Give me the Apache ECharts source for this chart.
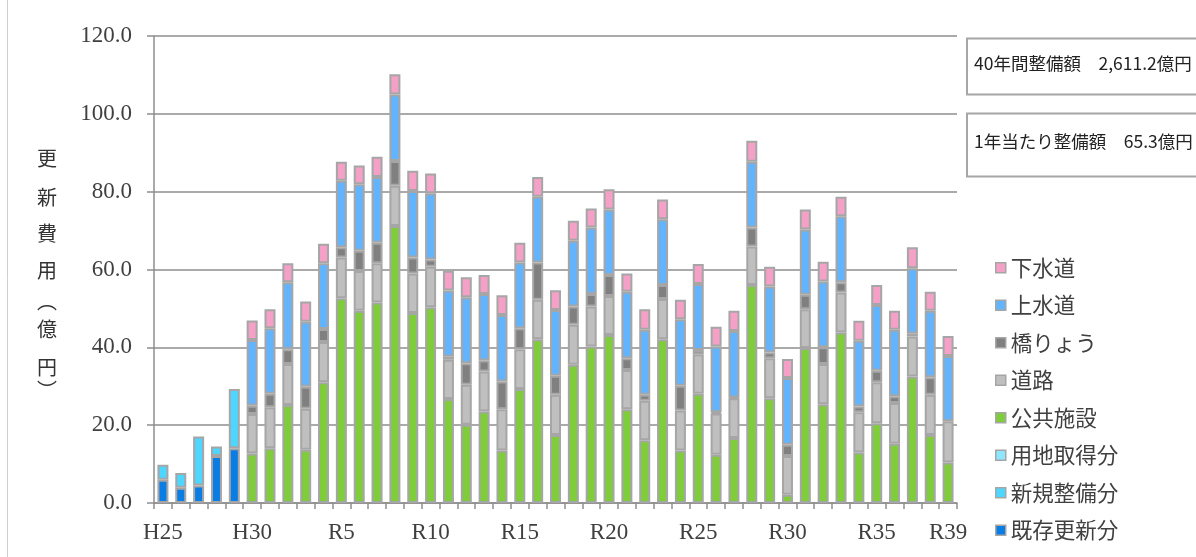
<!DOCTYPE html>
<html>
<head>
<meta charset="utf-8">
<script src="https://cdn.jsdelivr.net/npm/echarts@6/dist/echarts.min.js"></script>
<style>
  html, body { margin: 0; padding: 0; background: #fff; }
  #chart { width: 1196px; height: 557px; }
</style>
</head>
<body>
<div id="chart"></div>
<script>
// Fiscal years (平成25 … 令和39)
const categories = [
  'H25','H26','H27','H28','H29','H30',
  'R1','R2','R3','R4','R5','R6','R7','R8','R9','R10',
  'R11','R12','R13','R14','R15','R16','R17','R18','R19','R20',
  'R21','R22','R23','R24','R25','R26','R27','R28','R29','R30',
  'R31','R32','R33','R34','R35','R36','R37','R38','R39'
];

// 億円 per year; null = no amount in that year
const kizonKoushin = [6.0, 3.9, 4.5, 12.1, 14.1,
  null,null,null,null,null,null,null,null,null,null,null,null,null,null,null,null,null,null,null,null,
  null,null,null,null,null,null,null,null,null,null,null,null,null,null,null,null,null,null,null,null];
const shinkiSeibi = [3.8, 3.8, 12.6, 2.4, 15.2,
  null,null,null,null,null,null,null,null,null,null,null,null,null,null,null,null,null,null,null,null,
  null,null,null,null,null,null,null,null,null,null,null,null,null,null,null,null,null,null,null,null];
const youchiShutoku = [null,null,null,null,null,
  null,null,null,null,null,null,null,null,null,null,null,null,null,null,null,null,null,null,null,null,
  null,null,null,null,null,null,null,null,null,null,null,null,null,null,null,null,null,null,null,null];
const koukyouShisetsu = [null,null,null,null,null,
  12.7,14.1,25.2,13.7,31.0,52.6,49.4,51.5,71.2,48.8,50.3,26.7,20.1,23.5,13.5,29.3,42.1,17.5,35.5,40.2,
  43.2,24.1,16.1,42.1,13.5,28.1,12.4,16.7,56.0,26.9,2.1,39.8,25.4,43.8,13.0,20.5,15.2,32.5,17.5,10.4];
const douro = [null,null,null,null,null,
  10.2,10.5,10.5,10.5,10.4,10.5,10.2,10.1,10.3,10.2,10.4,10.1,10.3,10.3,10.6,10.2,10.1,10.3,10.3,10.3,
  10.0,10.1,10.2,10.3,10.3,10.1,10.6,10.2,9.9,10.3,10.0,10.0,10.3,10.3,10.3,10.5,10.5,10.3,10.3,10.6];
const kyouryou = [null,null,null,null,null,
  2.1,3.5,3.8,5.7,3.3,2.6,5.2,5.3,6.4,4.1,1.9,0.8,5.5,2.8,7.1,5.4,9.6,4.9,4.7,3.2,
  5.4,3.0,1.5,3.6,6.3,1.1,0.3,0.2,4.9,1.5,2.9,3.7,4.3,2.6,1.5,3.0,1.7,0.7,4.5,null];
const jousuidou = [null,null,null,null,null,
  16.9,16.8,17.2,16.7,16.9,17.1,17.1,16.9,17.1,17.1,17.0,17.0,17.0,17.1,17.1,16.9,16.9,16.9,16.9,17.1,
  16.8,17.1,16.7,16.9,17.1,17.0,16.9,17.1,16.9,16.9,17.1,16.8,16.9,17.0,16.9,16.9,17.1,16.8,17.1,16.8];
const gesuidou = [null,null,null,null,null,
  5.0,4.9,4.9,5.2,5.0,4.9,4.8,5.2,5.2,5.2,5.1,5.1,5.1,4.9,5.1,5.1,5.1,5.1,5.1,4.9,
  5.2,4.7,5.3,5.1,5.0,5.1,5.1,5.2,5.4,5.1,4.9,5.1,5.1,5.0,5.1,5.1,4.9,5.4,4.9,5.1];

const yTicks = [0, 20, 40, 60, 80, 100, 120];
const summaryTotal = '40年間整備額　2,611.2億円';
const summaryAnnual = '1年当たり整備額　65.3億円';
const yTitleChars = ['更', '新', '費', '用', '︵', '億', '円', '︶'];

const stackOrder = [
  { name: '既存更新分', data: kizonKoushin,   color: '#0a7de4' },
  { name: '新規整備分', data: shinkiSeibi,    color: '#4dd6ff' },
  { name: '用地取得分', data: youchiShutoku,  color: '#8fe6ff' },
  { name: '公共施設',   data: koukyouShisetsu, color: '#7fcd3a' },
  { name: '道路',       data: douro,          color: '#bfbfbf' },
  { name: '橋りょう',   data: kyouryou,       color: '#808080' },
  { name: '上水道',     data: jousuidou,      color: '#63b4ff' },
  { name: '下水道',     data: gesuidou,       color: '#f5a0c6' }
];

const gridColor = '#8e8e8e';
const textColor = '#404040';
const cjkFont = '"Noto Sans CJK JP", "Noto Sans", sans-serif';
const numFont = '"Liberation Serif", "DejaVu Serif", serif';

const chart = echarts.init(document.getElementById('chart'), null, { renderer: 'canvas' });

// vertical axis title, one glyph per row
const titleY = [158, 197, 233, 270, 301, 329, 367, 390];
const titleTexts = yTitleChars.map((ch, i) => ({
  type: 'text',
  x: 47,
  y: titleY[i],
  style: {
    text: ch,
    font: '20px ' + cjkFont,
    fill: '#333',
    align: 'center',
    verticalAlign: 'middle'
  }
}));

const option = {
  animation: false,
  backgroundColor: '#ffffff',
  grid: { left: 154, right: 239, top: 36, bottom: 54, containLabel: false },
  legend: {
    orient: 'vertical',
    left: 995,
    top: 257,
    padding: 0,
    itemWidth: 10,
    itemHeight: 10,
    itemGap: 16,
    icon: 'rect',
    selectedMode: false,
    itemStyle: { borderColor: '#a6a6a6', borderWidth: 1.5 },
    textStyle: { fontFamily: cjkFont, fontSize: 21.5, lineHeight: 21.3, color: textColor },
    data: ['下水道', '上水道', '橋りょう', '道路', '公共施設', '用地取得分', '新規整備分', '既存更新分']
  },
  xAxis: {
    type: 'category',
    data: categories,
    boundaryGap: true,
    axisLine: { show: true, lineStyle: { color: gridColor, width: 1.5 } },
    axisTick: { show: true, interval: 0, length: 6, lineStyle: { color: gridColor, width: 1.5 } },
    axisLabel: {
      interval: (idx) => idx % 5 === 0 || idx === categories.length - 1,
      margin: 18,
      fontFamily: numFont,
      fontSize: 23,
      color: textColor
    },
    splitLine: { show: false }
  },
  yAxis: {
    type: 'value',
    min: yTicks[0],
    max: yTicks[yTicks.length - 1],
    interval: 20,
    axisLine: { show: true, lineStyle: { color: gridColor, width: 1.5 } },
    axisTick: { show: true, length: 7, lineStyle: { color: gridColor, width: 1.5 } },
    axisLabel: {
      margin: 22,
      fontFamily: numFont,
      fontSize: 23,
      color: textColor,
      formatter: (v) => v.toFixed(1)
    },
    splitLine: { show: true, lineStyle: { color: gridColor, width: 1.5 } }
  },
  series: stackOrder.map((s) => ({
    name: s.name,
    type: 'bar',
    stack: 'total',
    barWidth: 11,
    data: s.data,
    itemStyle: { color: s.color, borderColor: '#a6a6a6', borderWidth: 2 },
    emphasis: { disabled: true }
  })),
  graphic: [
    // thin frame line at the left edge
    { type: 'line', shape: { x1: 7.5, y1: 0, x2: 7.5, y2: 557 }, style: { stroke: '#cfcfcf', lineWidth: 1 } },
    // summary boxes
    { type: 'rect', shape: { x: 967, y: 38.5, width: 240, height: 56 },
      style: { fill: '#fff', stroke: '#a6a6a6', lineWidth: 2 } },
    { type: 'text', x: 974, y: 63.5,
      style: { text: summaryTotal, font: '17.5px ' + cjkFont, fill: '#222', verticalAlign: 'middle' } },
    { type: 'rect', shape: { x: 967, y: 113.5, width: 240, height: 63 },
      style: { fill: '#fff', stroke: '#a6a6a6', lineWidth: 2 } },
    { type: 'text', x: 974, y: 141.5,
      style: { text: summaryAnnual, font: '17.5px ' + cjkFont, fill: '#222', verticalAlign: 'middle' } }
  ].concat(titleTexts)
};

chart.setOption(option);
</script>
</body>
</html>
